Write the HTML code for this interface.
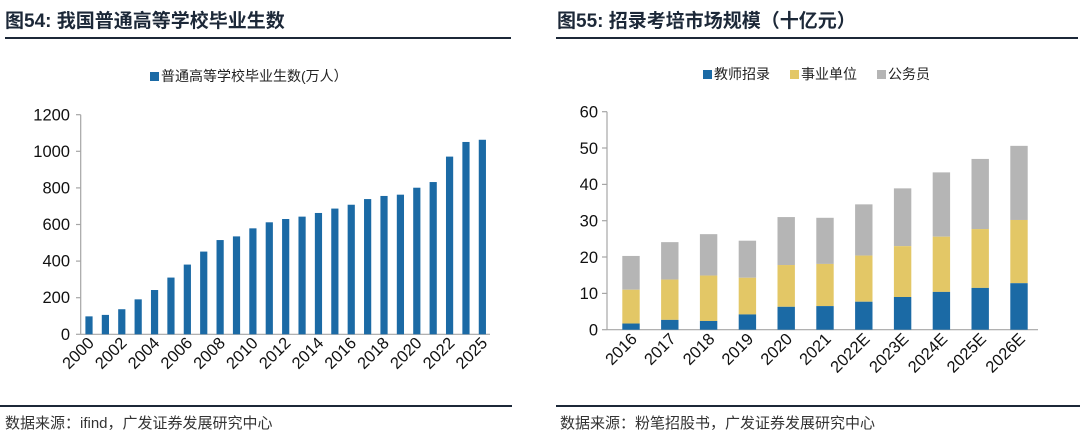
<!DOCTYPE html>
<html><head><meta charset="utf-8"><style>
html,body{margin:0;padding:0;background:#fff;}
svg{display:block;}
text{font-family:"Liberation Sans","Noto Sans CJK SC",sans-serif;}
</style></head><body>
<svg width="1080" height="439" viewBox="0 0 1080 439" xmlns="http://www.w3.org/2000/svg">
<g font-weight="bold" font-size="19" fill="#1c2838">
<text x="5" y="27">图54:  我国普通高等学校毕业生数</text>
<text x="557" y="27">图55:  招录考培市场规模（十亿元）</text>
</g>
<rect x="5" y="37" width="506" height="2" fill="#1c2838"/>
<rect x="556" y="37" width="522" height="2" fill="#1c2838"/>
<rect x="0" y="405" width="512" height="2" fill="#1c2838"/>
<rect x="556" y="405" width="524" height="2" fill="#1c2838"/>
<g font-size="15" fill="#333">
<text x="5" y="428">数据来源：ifind，广发证券发展研究中心</text>
<text x="560" y="428">数据来源：粉笔招股书，广发证券发展研究中心</text>
</g>
<rect x="150" y="72" width="9" height="9" fill="#1b6aa5"/>
<text x="161" y="81" font-size="14" fill="#222">普通高等学校毕业生数(万人）</text>
<g stroke="#a6a6a6" stroke-width="1.2" fill="none">
<line x1="80.7" y1="114.7" x2="80.7" y2="334.3"/>
<line x1="80.7" y1="334.3" x2="490" y2="334.3"/>
<line x1="76" y1="114.7" x2="80.7" y2="114.7"/>
<line x1="76" y1="151.3" x2="80.7" y2="151.3"/>
<line x1="76" y1="187.9" x2="80.7" y2="187.9"/>
<line x1="76" y1="224.5" x2="80.7" y2="224.5"/>
<line x1="76" y1="261.1" x2="80.7" y2="261.1"/>
<line x1="76" y1="297.7" x2="80.7" y2="297.7"/>
<line x1="76" y1="334.3" x2="80.7" y2="334.3"/>
</g>
<g font-size="16.5" fill="#111" text-anchor="end">
<text x="70" y="120.5">1200</text><text x="70" y="157">1000</text><text x="70" y="193.5">800</text>
<text x="70" y="230">600</text><text x="70" y="266.5">400</text><text x="70" y="303">200</text><text x="70" y="340">0</text>
</g>
<g id="lb" fill="#1b6aa5"></g>
<g id="ll" font-size="16.5" fill="#111" text-anchor="end"></g>
<rect x="703" y="70" width="9" height="9" fill="#1b6aa5"/>
<text x="714" y="79" font-size="14" fill="#222">教师招录</text>
<rect x="790" y="70" width="9" height="9" fill="#e3c766"/>
<text x="801" y="79" font-size="14" fill="#222">事业单位</text>
<rect x="877" y="70" width="9" height="9" fill="#b5b5b5"/>
<text x="888" y="79" font-size="14" fill="#222">公务员</text>
<g stroke="#a6a6a6" stroke-width="1.2" fill="none">
<line x1="607" y1="111.7" x2="607" y2="329.7"/>
<line x1="607" y1="329.7" x2="1038" y2="329.7"/>
<line x1="602" y1="111.7" x2="607" y2="111.7"/>
<line x1="602" y1="148" x2="607" y2="148"/>
<line x1="602" y1="184.4" x2="607" y2="184.4"/>
<line x1="602" y1="220.7" x2="607" y2="220.7"/>
<line x1="602" y1="257" x2="607" y2="257"/>
<line x1="602" y1="293.4" x2="607" y2="293.4"/>
<line x1="602" y1="329.7" x2="607" y2="329.7"/>
</g>
<g font-size="16.5" fill="#111" text-anchor="end">
<text x="598" y="117.5">60</text><text x="598" y="154">50</text><text x="598" y="190">40</text>
<text x="598" y="226.5">30</text><text x="598" y="263">20</text><text x="598" y="299">10</text><text x="598" y="335.5">0</text>
</g>
<g id="rb"></g>
<g id="rl" font-size="16.5" fill="#111" text-anchor="end"></g>
<script>
var NS="http://www.w3.org/2000/svg";
function el(t,a,p,txt){var e=document.createElementNS(NS,t);for(var k in a)e.setAttribute(k,a[k]);if(txt)e.textContent=txt;p.appendChild(e);return e;}
var lv=[98,106,137,191,242,310,381,452,515,535,579,612,630,643,663,687,708,739,756,763,801,832,971,1051,1063];
var lb=document.getElementById('lb'),ll=document.getElementById('ll');
lv.forEach(function(v,i){var cx=89+i*16.39,h=v*219.6/1200;el('rect',{x:cx-3.6,y:334.3-h,width:7.2,height:h},lb);});
var labs=[[0,'2000'],[2,'2002'],[4,'2004'],[6,'2006'],[8,'2008'],[10,'2010'],[12,'2012'],[14,'2014'],[16,'2016'],[18,'2018'],[20,'2020'],[22,'2022'],[24,'2025']];
labs.forEach(function(a){var cx=89+a[0]*16.39+6,y=344;el('text',{x:cx,y:y,transform:'rotate(-45 '+cx+' '+y+')'},ll,a[1]);});
var rv=[[1.7,11,20.3],[2.7,13.8,24.1],[2.4,14.9,26.3],[4.2,14.3,24.5],[6.3,17.8,31],[6.5,18.1,30.8],[7.7,20.4,34.5],[9,23,38.9],[10.4,25.6,43.3],[11.5,27.7,47],[12.8,30.2,50.6]];
var rn=['2016','2017','2018','2019','2020','2021','2022E','2023E','2024E','2025E','2026E'];
var rb=document.getElementById('rb'),rl=document.getElementById('rl');
var s=218/60;
rv.forEach(function(v,i){var cx=631+i*38.8,x=cx-8.7,w=17.4;
el('rect',{x:x,y:329.7-v[2]*s,width:w,height:(v[2]-v[1])*s,fill:'#b5b5b5'},rb);
el('rect',{x:x,y:329.7-v[1]*s,width:w,height:(v[1]-v[0])*s,fill:'#e3c766'},rb);
el('rect',{x:x,y:329.7-v[0]*s,width:w,height:v[0]*s,fill:'#1b6aa5'},rb);
var tx=cx+7,ty=340;el('text',{x:tx,y:ty,transform:'rotate(-45 '+tx+' '+ty+')'},rl,rn[i]);});
</script>
</svg>
</body></html>
